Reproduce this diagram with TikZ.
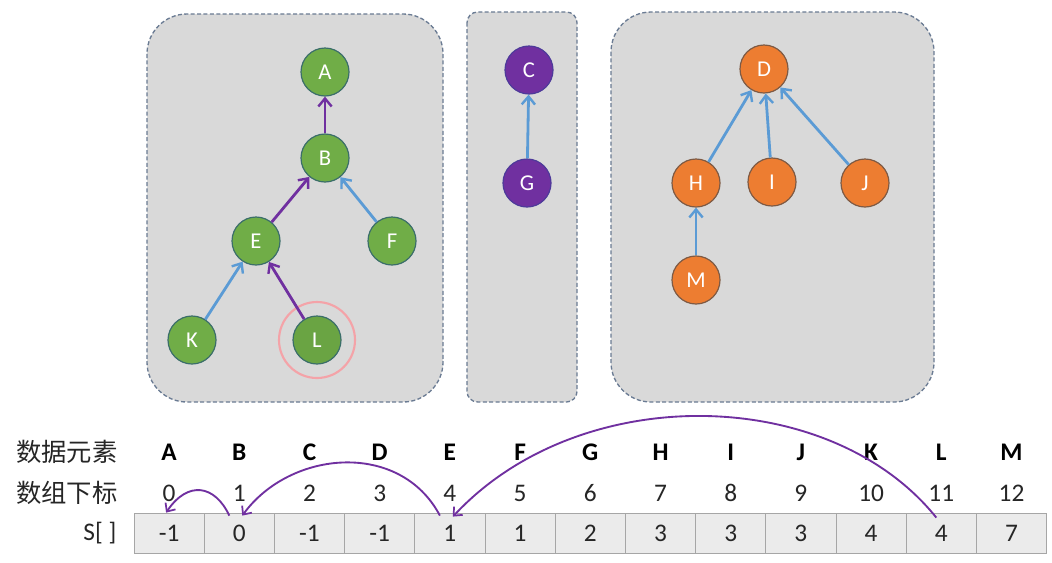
\documentclass[tikz,border=0pt]{standalone}
\usepackage{fontspec}
\setmainfont{Carlito}
\newfontfamily\cjk{Noto Sans CJK SC}
\usetikzlibrary{arrows.meta,calc}
\definecolor{grn}{HTML}{70AD47}
\definecolor{grnb}{HTML}{3B6E6A}
\definecolor{org}{HTML}{ED7D31}
\definecolor{orgb}{HTML}{7E5A44}
\definecolor{pur}{HTML}{7030A0}
\definecolor{purb}{HTML}{4E3A9A}
\definecolor{blu}{HTML}{5B9BD5}
\definecolor{boxfill}{HTML}{D9D9D9}
\definecolor{boxline}{HTML}{6A7B93}
\definecolor{cellfill}{HTML}{EBEBEB}
\definecolor{cellline}{HTML}{A6A6A6}
\definecolor{ring}{HTML}{F4A3A8}
\definecolor{txt}{HTML}{262626}
\tikzset{
  grpbox/.style={draw=boxline, fill=boxfill, line width=1pt, dash pattern=on 3pt off 1.8pt},
  vtx/.style={circle, minimum size=36pt, inner sep=0pt, line width=0.9pt, text=white, font=\fontsize{17pt}{17pt}\selectfont},
  gv/.style={vtx, fill=grn, draw=grnb},
  ov/.style={vtx, fill=org, draw=orgb},
  pv/.style={vtx, fill=pur, draw=purb},
  parr/.style={draw=pur, line width=2.1pt, -{Straight Barb[length=6pt,width=10pt,line width=1.8pt]}},
  barr/.style={draw=blu, line width=2.1pt, -{Straight Barb[length=6pt,width=10pt,line width=1.8pt]}},
  cell/.style={draw=cellline, fill=cellfill, line width=0.6pt, minimum width=52.65pt, minimum height=30pt, inner sep=0pt, text=txt, font=\fontsize{19pt}{19pt}\selectfont},
  lett/.style={text=black, font=\bfseries\fontsize{19pt}{19pt}\selectfont},
  idx/.style={text=txt, font=\fontsize{19pt}{19pt}\selectfont},
  rowlab/.style={text=txt, font=\cjk\fontsize{19pt}{19pt}\selectfont},
  carr/.style={draw=pur, line width=1.4pt, -{Straight Barb[length=5pt,width=9pt,line width=1.3pt]}}
}
\begin{document}
\begin{tikzpicture}[x=0.75pt,y=-0.75pt]
\useasboundingbox[fill=white] (0,0) rectangle (1052,562);
% group boxes
\draw[grpbox, rounded corners=30pt] (147,14) rectangle (443,402);
\draw[grpbox, rounded corners=8pt] (467,12) rectangle (577,402);
\draw[grpbox, rounded corners=30pt] (611,12) rectangle (934,402);
% ring around L
\draw[ring, line width=1.6pt] (317,340) circle (28.5pt);
% tree 1
\node[gv] (A) at (325,72) {A};
\node[gv] (B) at (325,158) {B};
\node[gv] (E) at (256,241) {E};
\node[gv] (F) at (392,241) {F};
\node[gv] (K) at (192,340) {K};
\node[gv, fill=grn!95!black] (L) at (317,340) {L};
% tree 2
\node[pv] (C) at (529,70) {C};
\node[pv] (G) at (527,183) {G};
% tree 3
\node[ov] (D) at (764,69) {D};
\node[ov] (H) at (696,183) {H};
\node[ov] (I) at (772,182) {I};
\node[ov] (J) at (865,183) {J};
\node[ov] (M) at (696,280) {M};
% edges
\draw[parr] (B) -- (A);
\draw[parr] (E) -- (B);
\draw[parr] (L) -- (E);
\draw[barr] (F) -- (B);
\draw[barr] (K) -- (E);
\draw[barr] (G) -- (C);
\draw[barr] (H) -- (D);
\draw[barr] (I) -- (D);
\draw[barr] (J) -- (D);
\draw[barr] (M) -- (H);
% row labels
\node[rowlab] (r1) at (67,452) {数据元素};
\node[rowlab] (r2) at (67,493) {数组下标};
\node[idx, anchor=east] (r3) at (121,533) {S[ ]};
% table
\foreach \i/\l/\v in {0/A/-1,1/B/0,2/C/-1,3/D/-1,4/E/1,5/F/1,6/G/2,7/H/3,8/I/3,9/J/3,10/K/4,11/L/4,12/M/7}{
  \node[cell] (s\i) at ({169.1+70.2*\i},533) {\v};
  \node[lett] (l\i) at ({169.1+70.2*\i},452) {\l};
  \node[idx] (n\i) at ({169.1+70.2*\i},493) {\i};
}
% curved arrows
\draw[carr] ($(s1.north)+(-10,3)$) .. controls (215,485) and (188,480) .. ($(s0.north)+(-3,0)$);
\draw[carr] ($(s4.north)+(-10,3)$) .. controls (400,440) and (290,450) .. ($(s1.north)+(3,3)$);
\draw[carr] ($(s11.north)+(-5,5)$) .. controls (830,385) and (580,380) .. ($(s4.north)+(3,4)$);
\end{tikzpicture}
\end{document}
